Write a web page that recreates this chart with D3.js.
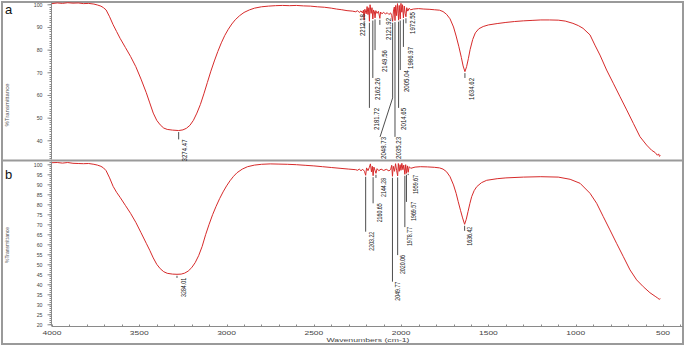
<!DOCTYPE html>
<html>
<head>
<meta charset="utf-8">
<script src="https://cdn.jsdelivr.net/npm/d3@7"></script>
<style>
  body { margin: 0; background: #fff; }
  svg { display: block; }
</style>
</head>
<body>
<div id="chart"></div>
<script>
// ---- spectrum a (wavenumber, %T) ----
const waveA = [4000, 3970, 3940, 3910, 3880, 3850, 3820, 3790, 3760, 3740, 3720, 3705, 3690, 3670, 3650, 3630, 3610,
  3580, 3550, 3520, 3490, 3460, 3440, 3420, 3400, 3380, 3360, 3340, 3310, 3274.47, 3250, 3230, 3210, 3190, 3170,
  3150, 3130, 3110, 3090, 3070, 3050, 3030, 3010, 2990, 2970, 2950, 2925, 2900, 2870, 2840, 2800, 2760, 2720, 2680,
  2640, 2600, 2560, 2520, 2480, 2440, 2400, 2370, 2340, 2310, 2280, 2260, 2250, 2240, 2230, 2222, 2216, 2212.18,
  2208, 2200, 2195, 2190, 2185, 2181.72, 2178, 2172, 2167, 2162.26, 2158, 2153, 2149.56, 2145, 2138, 2130, 2121.92,
  2118, 2110, 2100, 2090, 2080, 2070, 2060, 2054, 2048.73, 2044, 2039, 2035.23, 2031, 2026, 2021, 2017, 2014.65,
  2011, 2008, 2005.04, 2001, 1996, 1992, 1986.97, 1982, 1977, 1972.55, 1968, 1962, 1955, 1945, 1930, 1900, 1870,
  1840, 1810, 1780, 1760, 1740, 1720, 1700, 1685, 1670, 1655, 1645, 1634.62, 1625, 1615, 1605, 1590, 1575, 1555,
  1530, 1500, 1450, 1400, 1350, 1300, 1250, 1200, 1150, 1100, 1060, 1016, 985, 958, 918, 890, 861, 823, 785, 746,
  708, 670, 632, 594, 565, 545, 532, 525, 520, 515];
const transA = [100.3, 100.6, 100.4, 100.7, 100.5, 100.6, 100.3, 100.4, 100.1, 99.7, 99.2, 98.5, 97.5, 94.5, 91.0,
  88.0, 85.0, 81.0, 77.0, 72.5, 67.0, 61.0, 56.5, 52.0, 48.8, 46.8, 45.4, 44.8, 44.5, 44.3, 44.6, 45.3, 46.6, 48.8,
  52.0, 55.8, 60.5, 65.5, 70.5, 75.0, 79.2, 83.0, 86.3, 89.0, 91.3, 93.2, 95.0, 96.4, 97.5, 98.3, 98.9, 99.2, 99.4,
  99.5, 99.4, 99.5, 99.3, 99.2, 98.9, 98.7, 98.3, 97.9, 97.6, 97.2, 97.0, 96.7, 97.2, 96.4, 97.1, 96.2, 97.4, 93.0,
  97.8, 95.8, 99.0, 95.5, 98.5, 92.5, 99.8, 96.0, 98.5, 93.5, 97.5, 96.6, 94.0, 97.2, 96.0, 96.9, 93.8, 96.6, 95.8,
  96.5, 95.7, 96.3, 95.5, 96.2, 95.0, 92.5, 97.0, 98.8, 92.8, 99.5, 95.0, 100.3, 96.0, 93.0, 99.5, 96.2, 93.5,
  100.4, 96.5, 99.8, 94.0, 99.2, 96.0, 94.5, 98.5, 97.0, 98.2, 97.6, 97.9, 98.1, 97.9, 97.8, 97.6, 97.4, 96.8,
  95.6, 93.6, 90.0, 86.0, 81.5, 76.5, 72.8, 70.3, 72.5, 76.0, 80.0, 84.5, 87.4, 89.2, 90.2, 90.9, 91.5, 92.0, 92.4,
  92.7, 92.9, 93.1, 93.1, 93.0, 92.6, 91.6, 90.6, 89.4, 86.5, 82.0, 77.6, 71.0, 65.2, 59.2, 53.4, 47.5, 41.6, 37.9,
  35.6, 34.6, 33.4, 34.0, 32.9, 33.3];

// ---- spectrum b ----
const waveB = [4000, 3970, 3940, 3910, 3880, 3850, 3820, 3790, 3760, 3740, 3720, 3705, 3690, 3670, 3650, 3630, 3610,
  3580, 3550, 3520, 3490, 3460, 3440, 3420, 3400, 3380, 3360, 3340, 3310, 3284.01, 3260, 3240, 3220, 3200, 3180,
  3160, 3140, 3120, 3100, 3080, 3060, 3040, 3020, 3000, 2980, 2960, 2940, 2910, 2880, 2840, 2800, 2750, 2700, 2650,
  2600, 2550, 2500, 2450, 2400, 2350, 2300, 2260, 2250, 2240, 2230, 2220, 2210, 2203.22, 2198, 2190, 2182, 2176,
  2170, 2165, 2160.65, 2156, 2150, 2144.28, 2138, 2128, 2115, 2100, 2085, 2070, 2060, 2054, 2049.77, 2045, 2038,
  2032, 2026, 2020.06, 2016, 2011, 2006, 2001, 1996, 1990, 1985, 1978.77, 1974, 1969.57, 1964, 1959.67, 1954, 1945,
  1920, 1890, 1850, 1810, 1780, 1760, 1740, 1720, 1700, 1685, 1673, 1660, 1648, 1636.42, 1627, 1617, 1606, 1596,
  1582, 1567, 1540, 1510, 1450, 1400, 1300, 1200, 1100, 1032, 975, 918, 880, 842, 804, 766, 727, 689, 651, 613, 575,
  545, 530, 522, 515];
const transB = [100.8, 100.9, 100.6, 100.9, 100.5, 100.4, 100.3, 100.4, 100.0, 99.6, 99.0, 98.2, 96.8, 93.2, 89.0,
  86.0, 83.5, 79.5, 75.5, 71.0, 65.8, 60.5, 57.0, 53.2, 50.0, 47.8, 46.3, 45.5, 45.1, 45.0, 45.1, 45.6, 46.6, 48.3,
  50.8, 54.3, 58.9, 64.8, 70.0, 74.8, 79.0, 82.8, 86.2, 89.2, 91.8, 94.0, 95.8, 97.6, 98.8, 99.6, 100.0, 100.2,
  100.1, 100.0, 99.8, 99.5, 99.2, 98.8, 98.4, 98.0, 97.6, 97.3, 97.0, 97.6, 96.8, 97.5, 96.5, 94.5, 98.2, 96.8,
  98.5, 100.2, 96.2, 99.0, 94.3, 98.6, 97.0, 95.5, 97.8, 96.8, 97.6, 96.9, 97.5, 96.7, 97.4, 99.5, 94.0, 99.0,
  96.5, 100.3, 97.0, 94.2, 100.4, 96.5, 99.8, 97.0, 100.5, 97.3, 99.6, 95.0, 99.8, 95.5, 99.2, 96.0, 98.8, 98.0,
  98.6, 98.8, 98.7, 98.5, 98.2, 97.6, 96.3, 93.8, 89.7, 85.5, 81.3, 77.0, 73.2, 70.0, 72.5, 76.3, 80.5, 83.8, 86.8,
  88.8, 90.8, 92.0, 92.8, 93.2, 93.6, 93.8, 93.6, 92.5, 90.5, 85.5, 80.5, 73.8, 67.2, 60.5, 53.8, 47.2, 42.2, 38.8,
  35.8, 34.0, 33.1, 32.5, 32.8];

// labelled peaks
const peaksA = [3274.47, 2212.18, 2181.72, 2162.26, 2149.56, 2121.92, 2048.73, 2035.23, 2014.65, 2005.04, 1986.97,
  1972.55, 1634.62];
const peaksB = [3284.01, 2203.22, 2160.65, 2144.28, 2049.77, 2020.06, 1978.77, 1969.57, 1959.67, 1636.42];

// axis ticks
const yTicksA = [40, 50, 60, 70, 80, 90, 100];
const yTicksB = [20, 25, 30, 35, 40, 45, 50, 55, 60, 65, 70, 75, 80, 85, 90, 95, 100];
const xTicks = [4000, 3500, 3000, 2500, 2000, 1500, 1000, 500];

// where each label's leader ends (in %T) and horizontal nudge of the text
const layoutA = [
  {dx: 5.6, end: 40.4}, {dx: -2, end: 95.7}, {dx: 7, end: 54.3}, {dx: 4.5, end: 67.5}, {dx: 9, end: 79.8},
  {dx: 9, end: 94.0}, {dx: -9.6, end: 41.5, elbow: 58.7, lineDx: -12.6}, {dx: 3.5, end: 41.5},
  {dx: 4.3, end: 54.3}, {dx: 6, end: 71.0}, {dx: 6.5, end: 81.2}, {dx: 6.7, end: 96.6}, {dx: 6.5, end: 67.5},
];
const layoutB = [
  {dx: 6.5, end: 43.2}, {dx: 5.7, end: 66.3}, {dx: 6.5, end: 80.5}, {dx: 7.3, end: 93.2}, {dx: 5.3, end: 41.3},
  {dx: 5, end: 54.6}, {dx: 4.5, end: 68.6}, {dx: 6.7, end: 81.2}, {dx: 7.7, end: 94.6}, {dx: 5, end: 68.8},
];

const W = 685, H = 346;
const red = '#d62a2a';
const axisGrey = '#8a8a8a';
const textGrey = '#444';

const svg = d3.select('#chart').append('svg')
    .attr('width', W)
    .attr('height', H)
    .style('font-family', '"Liberation Sans", Arial, sans-serif');

const x = d3.scaleLinear().domain([4000, 500]).range([52, 663]);
const yA = d3.scaleLinear().domain([40, 100]).range([140.3, 4.3]);
const yB = d3.scaleLinear().domain([20, 100]).range([324.3, 164.3]);

const panels = [
  {id: 'a', wave: waveA, trans: transA, y: yA, top: 2, bottom: 159.5, ticks: yTicksA, minor: d3.range(32, 101),
    peaks: peaksA, layout: layoutA, labelLen: 22, labelSize: 7.5, letterY: 14, ylabLen: 43, ylabY: 105},
  {id: 'b', wave: waveB, trans: transB, y: yB, top: 161.5, bottom: 326, ticks: yTicksB, minor: d3.range(20, 102),
    peaks: peaksB, layout: layoutB, labelLen: 19, labelSize: 6.8, letterY: 179, ylabLen: 36, ylabY: 245},
];

// frame and divider
svg.append('rect')
    .attr('x', 2).attr('y', 2).attr('width', W - 4).attr('height', H - 4)
    .attr('fill', 'none').attr('stroke', '#9a9a9a').attr('stroke-width', 2);
svg.append('line')
    .attr('x1', 2).attr('x2', W - 2).attr('y1', 160.5).attr('y2', 160.5)
    .attr('stroke', '#9a9a9a').attr('stroke-width', 2);

panels.forEach((p) => {
  const g = svg.append('g');

  g.append('clipPath').attr('id', `clip-${p.id}`)
    .append('rect')
      .attr('x', 52).attr('y', p.top).attr('width', 683 - 52).attr('height', p.bottom - p.top);

  // y axis line + ticks
  g.append('line')
      .attr('x1', 51.5).attr('x2', 51.5).attr('y1', p.top).attr('y2', p.bottom)
      .attr('stroke', axisGrey);

  const minorTicks = p.minor.filter((v) => p.y(v) > p.top && p.y(v) < p.bottom);
  g.append('g').selectAll('line')
      .data(minorTicks)
      .join('line')
      .attr('x1', 49.5).attr('x2', 51.5)
      .attr('y1', (d) => Math.round(p.y(d)) + 0.5)
      .attr('y2', (d) => Math.round(p.y(d)) + 0.5)
      .attr('stroke', axisGrey);

  const yAxis = d3.axisLeft(p.y).tickValues(p.ticks).tickSize(4).tickPadding(5).tickSizeOuter(0);
  const yAxisG = g.append('g')
      .attr('transform', 'translate(51.5,0)')
      .call(yAxis);
  yAxisG.select('.domain').remove();
  yAxisG.selectAll('.tick line').attr('stroke', axisGrey);
  yAxisG.selectAll('.tick text')
      .attr('fill', textGrey)
      .style('font-family', '"Liberation Sans", Arial, sans-serif')
      .style('font-size', '5.8px')
      .attr('textLength', (d) => String(d).length * 2.9)
      .attr('lengthAdjust', 'spacingAndGlyphs');

  // y label
  g.append('text')
      .attr('transform', `translate(9,${p.ylabY}) rotate(-90)`)
      .attr('text-anchor', 'middle')
      .attr('fill', '#555')
      .style('font-size', '6.2px')
      .attr('textLength', p.ylabLen)
      .attr('lengthAdjust', 'spacingAndGlyphs')
      .text('%Transmittance');

  // panel letter
  g.append('text')
      .attr('x', 5).attr('y', p.letterY)
      .attr('fill', '#111')
      .style('font-size', '13px')
      .text(p.id);

  // spectrum
  const pts = d3.zip(p.wave, p.trans);
  const line = d3.line().x((d) => x(d[0])).y((d) => p.y(d[1]));
  g.append('path')
      .datum(pts)
      .attr('clip-path', `url(#clip-${p.id})`)
      .attr('d', line)
      .attr('fill', 'none')
      .attr('stroke', red)
      .attr('stroke-width', 1)
      .attr('stroke-linejoin', 'round');

  // peak leaders + labels
  const fmt = d3.format('.2f');
  p.peaks.forEach((w, i) => {
    const lay = p.layout[i];
    const tip = p.trans[p.wave.indexOf(w)];
    const px = x(w);
    const yTip = p.y(tip) + 1.5;
    const yEnd = p.y(lay.end);
    const leader = g.append('g').attr('stroke', '#3a3a3a').attr('stroke-width', 0.9).attr('fill', 'none');
    if (lay.elbow !== undefined) {
      const yElb = p.y(lay.elbow);
      leader.append('path')
          .attr('d', `M${px},${yTip}V${yElb}L${px + lay.lineDx},${yEnd}`);
    } else if (yEnd > yTip + 1) {
      leader.append('line').attr('x1', px).attr('x2', px).attr('y1', yTip).attr('y2', yEnd);
    } else {
      leader.append('line').attr('x1', px).attr('x2', px).attr('y1', yTip).attr('y2', yTip + 5);
    }
    g.append('text')
        .attr('transform', `translate(${px + lay.dx},${yEnd}) rotate(-90)`)
        .attr('text-anchor', 'end')
        .attr('dy', '0.35em')
        .attr('fill', '#222')
        .style('font-family', '"Liberation Sans", Arial, sans-serif')
        .style('font-size', `${p.labelSize}px`)
        .attr('textLength', p.labelLen)
        .attr('lengthAdjust', 'spacingAndGlyphs')
        .text(fmt(w));
  });
});

// x axis (bottom panel only)
const xAxisY = 326.5;
svg.append('line')
    .attr('x1', 51.5).attr('x2', 683).attr('y1', xAxisY).attr('y2', xAxisY)
    .attr('stroke', axisGrey);
const minorX = d3.range(4000, 399, -100);
svg.append('g').selectAll('line')
    .data(minorX)
    .join('line')
    .attr('x1', (d) => Math.round(x(d)) + 0.5)
    .attr('x2', (d) => Math.round(x(d)) + 0.5)
    .attr('y1', xAxisY - 2).attr('y2', xAxisY)
    .attr('stroke', axisGrey);
svg.append('g').selectAll('text')
    .data(xTicks)
    .join('text')
    .attr('x', (d) => x(d))
    .attr('y', 334.5)
    .attr('text-anchor', 'middle')
    .attr('fill', textGrey)
    .style('font-size', '5.8px')
    .attr('textLength', (d) => String(d).length * 4.7)
    .attr('lengthAdjust', 'spacingAndGlyphs')
    .text((d) => d);

svg.append('text')
    .attr('x', 368).attr('y', 341.5)
    .attr('text-anchor', 'middle')
    .attr('fill', textGrey)
    .style('font-size', '6.2px')
    .attr('textLength', 83)
    .attr('lengthAdjust', 'spacingAndGlyphs')
    .text('Wavenumbers (cm-1)');
</script>
</body>
</html>
